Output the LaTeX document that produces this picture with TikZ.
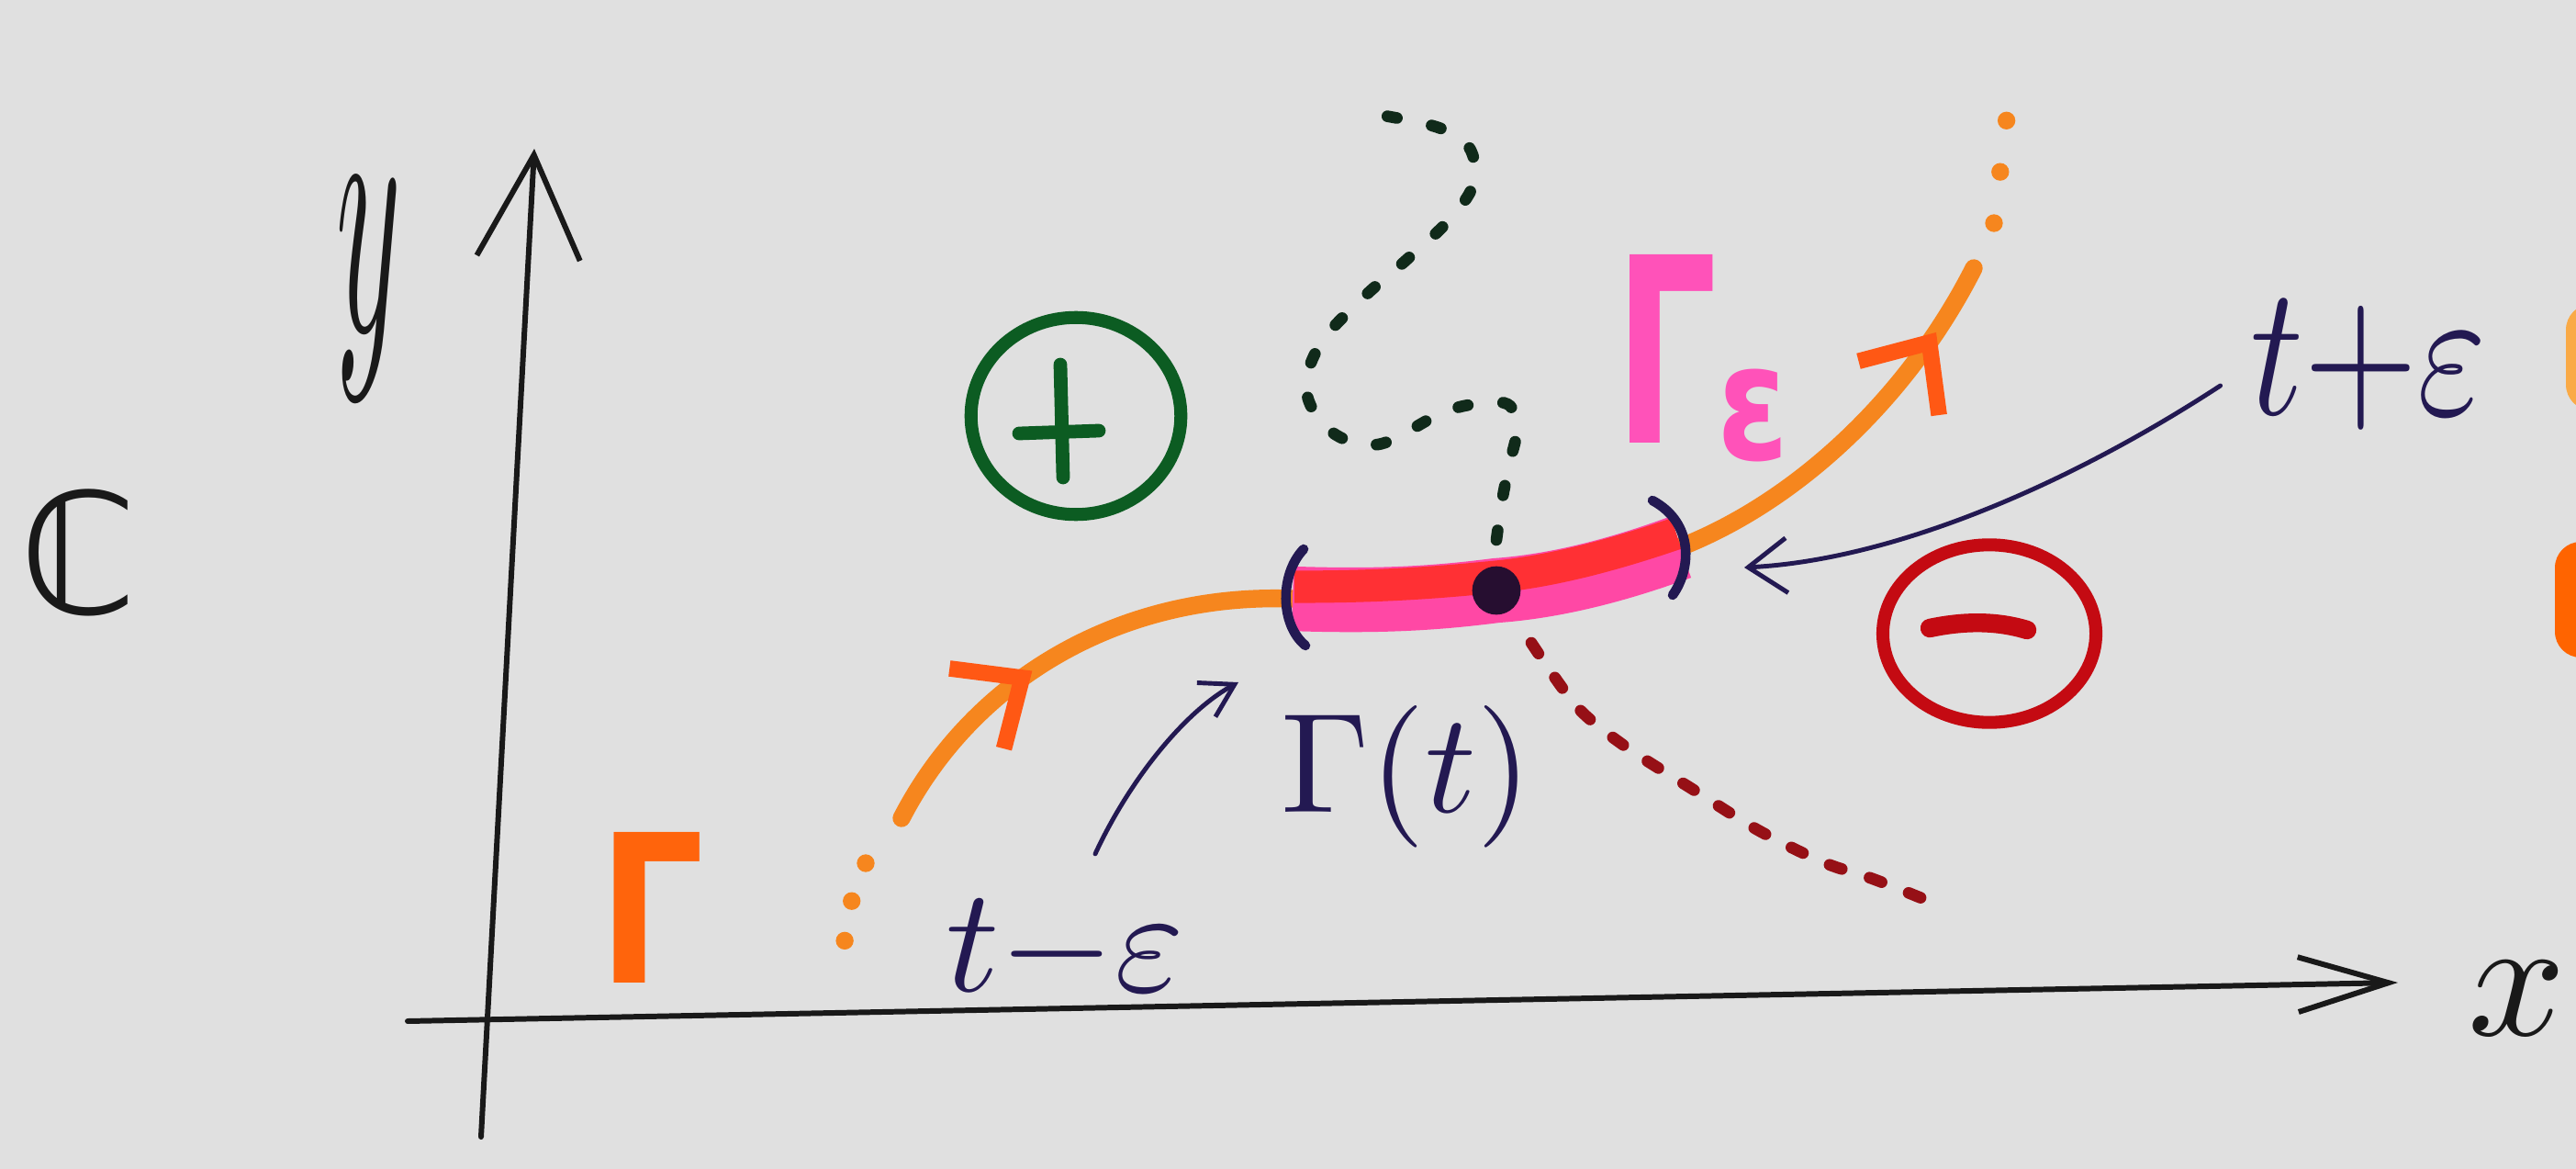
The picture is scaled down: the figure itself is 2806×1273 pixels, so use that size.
\documentclass[tikz,border=0pt]{standalone}
\usepackage{fontspec}
\usepackage{amsmath}
\usepackage{graphicx}
\usepackage{tikz}
\usetikzlibrary{arrows.meta, decorations.markings, shapes.geometric, positioning}
\newfontfamily\markerfont{DejaVu Sans}

\definecolor{paper}{RGB}{224,224,224}
\definecolor{axisblack}{RGB}{25,25,25}
\definecolor{orangeline}{RGB}{246,134,30}
\definecolor{orangetip}{RGB}{255,88,20}
\definecolor{orangetext}{RGB}{255,100,12}
\definecolor{edgelight}{RGB}{250,170,70}
\definecolor{edgeorange}{RGB}{255,100,0}
\definecolor{pinkband}{RGB}{255,72,165}
\definecolor{redband}{RGB}{255,48,52}
\definecolor{pinktext}{RGB}{255,82,185}
\definecolor{navy}{RGB}{35,25,82}
\definecolor{pointcol}{RGB}{38,14,48}
\definecolor{greenring}{RGB}{12,92,34}
\definecolor{greendot}{RGB}{16,42,26}
\definecolor{redring}{RGB}{196,10,18}
\definecolor{reddot}{RGB}{150,16,22}

\tikzstyle{axisline} = [draw=axisblack, line width=1.7pt, line cap=round]
\tikzstyle{gcurve} = [draw=orangeline, line width=5.5pt, line cap=round]
\tikzstyle{band} = [draw=pinkband, line width=20pt]
\tikzstyle{paren} = [draw=navy, line width=3pt, line cap=round]
\tikzstyle{pointer} = [draw=navy, line width=1.4pt, line cap=round]
\tikzstyle{tag} = [inner sep=0pt, text=navy]
\tikzstyle{greendots} = [draw=greendot, line width=3.6pt, line cap=round, dash pattern=on 3pt off 11pt]
\tikzstyle{reddots} = [draw=reddot, line width=3.6pt, line cap=round, dash pattern=on 4pt off 9pt]
\tikzstyle{orangedots} = [draw=orangeline, line width=5.5pt, line cap=round, dash pattern=on 0pt off 12.5pt]
\tikzstyle{ring} = [ellipse, draw, line width=4pt, inner sep=0pt]
\tikzset{tipat/.style={postaction={decorate}, decoration={markings,
    mark=at position #1 with {\arrow{Straight Barb[length=17pt,width=30pt,line width=5pt,color=orangetip]}}}}}

\begin{document}
\begin{tikzpicture}[x=0.01cm, y=-0.01cm]
        % Fondo
        \fill[paper] (0,0) rectangle (2806,1273);
        \useasboundingbox (0,0) rectangle (2806,1273);
        \clip (0,0) rectangle (2806,1273);
        \fill[edgelight, rounded corners=8pt] (2795,331) rectangle (2840,447);
        \fill[edgeorange, rounded corners=8pt] (2783,590) rectangle (2840,716);

        % Ejes
        \coordinate (x0) at (444,1112);
        \coordinate (x1) at (2612,1070);
        \coordinate (y0) at (524,1238);
        \coordinate (y1) at (582,162);
        \draw[axisline, -{Straight Barb[length=28pt,width=17pt]}] (x0) -- (x1);
        \draw[axisline, -{Straight Barb[length=32pt,width=32pt]}] (y0) -- (y1);
        \node[tag, text=axisblack] (xlab) at (2742,1087) {\scalebox{5.3}{$x$}};
        \node[tag, text=axisblack] (ylab) at (402,315) {\scalebox{3.8}[11]{$y$}};
        \node[tag, text=axisblack] (clab) at (85,602) {\markerfont\fontsize{52}{52}\selectfont ℂ};

        % Puntos
        \coordinate (g0) at (982,891);
        \coordinate (ta) at (1408,652);
        \coordinate (pt) at (1630,643);
        \coordinate (tb) at (1830,596);
        \coordinate (g1) at (2150,292);
        \coordinate (lt) at (1349,743);
        \coordinate (rt) at (1900,618);

        % Caminos punteados
        \draw[greendots] plot[smooth, tension=0.6] coordinates {(1630,588) (1636,546) (1644,506) (1652,468) (1642,440) (1600,441) (1564,453) (1501,484) (1450,470) (1423,426) (1438,375) (1484,325) (1532,283) (1578,240) (1605,200) (1600,160) (1564,138) (1484,122)};
        \draw[reddots] plot[smooth] coordinates {(1668,700) (1718,770) (1772,814) (1843,859) (1915,904) (1986,939) (2040,957) (2098,980)};
        \draw[orangedots] (943,940) .. controls (930,970) and (920,1000) .. (920,1030);
        \draw[orangedots, dash pattern=on 0pt off 16pt] (2172,243) -- (2186,128);

        % Curva
        \draw[gcurve, tipat=0.42] (g0) .. controls (1060,740) and (1220,645) .. (ta);
        \draw[gcurve, tipat=0.82] (tb) .. controls (1960,545) and (2080,430) .. (g1);
        \draw[band] (ta) .. controls (1500,655) and (1560,652) .. (pt) .. controls (1700,638) and (1770,618) .. (tb);
        \draw[draw=redband, line width=10pt] (1410,639) .. controls (1500,639) and (1560,635) .. (1630,628) .. controls (1700,621) and (1770,600) .. (1826,581);
        \draw[paren] (1420,598) .. controls (1394,625) and (1394,680) .. (1422,703);
        \draw[paren] (1800,545) .. controls (1846,570) and (1842,620) .. (1822,648);
        \fill[pointcol] (pt) circle[radius=7.5pt];

        % Regiones
        \node[ring, draw=greenring, minimum width=65pt, minimum height=61pt] (plus) at (1172,453) {};
        \draw[draw=greenring, line width=4.2pt, line cap=round] (1155,397) -- (1158,520);
        \draw[draw=greenring, line width=4.2pt, line cap=round] (1110,472) -- (1197,469);
        \node[ring, draw=redring, minimum width=66pt, minimum height=55pt] (minus) at (2167,690) {};
        \draw[draw=redring, line width=5.8pt, line cap=round] (2102,684) .. controls (2140,676) and (2175,676) .. (2208,686);

        % Etiquetas
        \node[tag, text=orangetext] (gam) at (710,988) {\markerfont\bfseries\fontsize{64}{64}\selectfont\scalebox{0.8}[1]{Γ}};
        \node[tag, text=pinktext] (gameps) at (1854,390) {\markerfont\bfseries\fontsize{80}{80}\selectfont\scalebox{0.62}[1]{Γ}\raisebox{-5pt}{\fontsize{50}{50}\selectfont\scalebox{0.8}[1]{ε}}};
        \node[tag] (gt) at (1532,846) {\scalebox{4.4}{$\Gamma(t)$}};
        \node[tag] (tme) at (1160,1036) {\scalebox{4.6}{$t{-}\varepsilon$}};
        \node[tag] (tpe) at (2580,398) {\scalebox{4.56}[5.76]{$t{+}\varepsilon$}};

        % Flechas
        \draw[pointer, -{Straight Barb[length=10pt,width=12pt]}] ([shift={(33,-49)}]tme.north) .. controls (1230,850) and (1290,775) .. (lt);
        \draw[pointer, -{Straight Barb[length=12pt,width=17pt]}] ([shift={(-32,22)}]tpe.west) .. controls (2250,530) and (2060,610) .. (rt);
\end{tikzpicture}
\end{document}
